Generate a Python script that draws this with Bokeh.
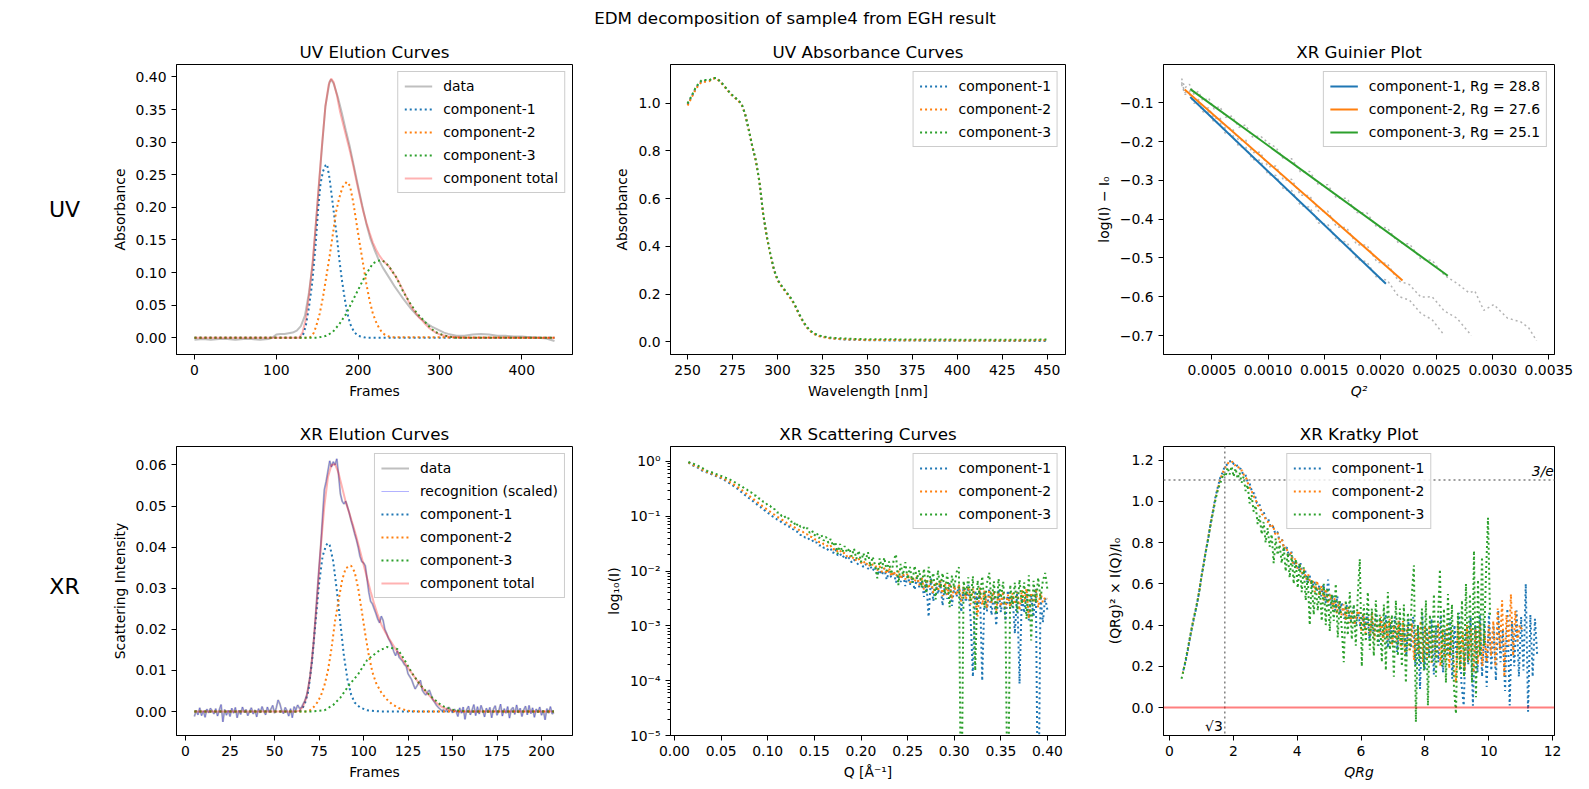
import numpy as np
from bokeh.plotting import figure
from bokeh.layouts import column, row
from bokeh.models import FixedTicker, CustomJSTickFormatter, Span, Label, Range1d
from bokeh.core.properties import value
from bokeh.embed import file_html
from bokeh.resources import INLINE

# ---------------------------------------------------------------- UV elution
uv_data_frames = [0, 10, 20, 30, 40, 50, 60, 70, 80, 90,
                  95, 100, 105, 110, 115, 120, 125, 130, 135, 140,
                  145, 150, 155, 160, 165, 167, 170, 175, 180, 185,
                  190, 195, 200, 205, 210, 215, 220, 225, 230, 235,
                  240, 245, 250, 255, 260, 265, 270, 275, 280, 285,
                  290, 295, 300, 305, 310,
                  320, 330, 340, 350, 360, 370, 380, 390, 400, 410, 420, 430, 440]
uv_data_abs = [-0.003, -0.002, -0.003, -0.002, -0.002, -0.003, -0.002, -0.002, -0.003, -0.002,
               0.000, 0.005, 0.006, 0.006, 0.007, 0.008, 0.011, 0.018, 0.034, 0.070,
               0.120, 0.200, 0.280, 0.355, 0.392, 0.396, 0.390, 0.370, 0.345, 0.318,
               0.292, 0.262, 0.232, 0.203, 0.175, 0.152, 0.135, 0.120, 0.108, 0.098,
               0.088, 0.078, 0.069, 0.060, 0.052, 0.044, 0.037, 0.031, 0.026, 0.021,
               0.017, 0.014, 0.011, 0.008, 0.006,
               0.003, 0.003, 0.005, 0.006, 0.005, 0.003, 0.003, 0.002, 0.002, 0.001, 0.000, -0.001, -0.005]

uv_c1_frames = [0, 128, 132, 136, 140, 144, 148, 151, 154, 157, 160, 162, 165, 168, 171,
                174, 177, 180, 183, 186, 190, 195, 200, 210, 440]
uv_c1_abs = [0, 0, 0.002, 0.018, 0.048, 0.085, 0.142, 0.195, 0.236, 0.255, 0.264, 0.266, 0.245, 0.215, 0.185,
             0.155, 0.120, 0.090, 0.065, 0.042, 0.022, 0.009, 0.003, 0, 0]

uv_c2_frames = [0, 140, 143, 146, 149, 153, 157, 161, 165, 169, 173, 177, 181, 186, 190,
                194, 198, 202, 206, 210, 214, 218, 222, 226, 230, 235, 240, 440]
uv_c2_abs = [0, 0, 0.002, 0.008, 0.019, 0.037, 0.062, 0.093, 0.124, 0.158, 0.193, 0.215, 0.231, 0.239, 0.233,
             0.208, 0.176, 0.144, 0.114, 0.083, 0.057, 0.037, 0.024, 0.014, 0.007, 0.003, 0.001, 0]

uv_c3_frames = [0, 150, 161, 169, 177, 185, 193, 201, 209, 218, 224, 229, 234, 239, 247,
                255, 263, 271, 279, 287, 294, 302, 310, 320, 440]
uv_c3_abs = [0, 0, 0.003, 0.009, 0.021, 0.036, 0.056, 0.076, 0.096, 0.114, 0.118, 0.119, 0.115, 0.107, 0.092,
             0.071, 0.054, 0.039, 0.028, 0.017, 0.009, 0.005, 0.002, 0, 0]

uv_total_frames = [0, 128, 132, 136, 140, 144, 148, 152, 156, 160, 164, 167,
                   170, 174, 178, 182, 186, 190, 194, 198, 202, 206,
                   210, 214, 218, 222, 226, 230, 234, 238, 242, 246,
                   250, 254, 258, 262, 266, 270, 274, 278, 282, 286,
                   290, 295, 300, 310, 320, 330, 440]
uv_total_abs = [0, 0, 0.008, 0.028, 0.065, 0.110, 0.170, 0.235, 0.298, 0.355, 0.388, 0.3975,
                0.392, 0.372, 0.346, 0.326, 0.306, 0.286, 0.264, 0.240, 0.217, 0.195,
                0.177, 0.161, 0.146, 0.135, 0.126, 0.119, 0.114, 0.109, 0.101, 0.094,
                0.085, 0.075, 0.065, 0.055, 0.046, 0.039, 0.032, 0.027, 0.021, 0.016,
                0.012, 0.008, 0.005, 0.002, 0.001, 0, 0]

# ---------------------------------------------------------------- UV absorbance
uv_wavelength = [250, 252, 254, 256, 258, 260, 262, 264, 266, 268,
                 270, 272, 274, 276, 278, 280, 282, 284, 286, 288,
                 290, 292, 294, 296, 298, 300, 302, 304, 306, 308,
                 310, 312, 314, 316, 318, 320, 322, 324, 326, 328,
                 330, 335, 340, 345, 350,
                 360, 370, 380, 390, 400, 410, 420, 430, 440, 450]
uv_spec_c1 = [0.995, 1.024, 1.055, 1.079, 1.094, 1.094, 1.094, 1.104, 1.104, 1.092,
              1.075, 1.057, 1.038, 1.026, 1.012, 0.997, 0.954, 0.889, 0.819, 0.758,
              0.668, 0.538, 0.443, 0.368, 0.303, 0.260, 0.236, 0.216, 0.196, 0.176,
              0.148, 0.116, 0.088, 0.064, 0.047, 0.035, 0.028, 0.023, 0.020, 0.017,
              0.015, 0.011, 0.009, 0.008, 0.007,
              0.006, 0.006, 0.005, 0.005, 0.005, 0.005, 0.004, 0.004, 0.004, 0.004]
uv_spec_c2 = [0.990, 1.020, 1.050, 1.075, 1.090, 1.090, 1.092, 1.103, 1.103, 1.091,
              1.074, 1.056, 1.037, 1.025, 1.011, 0.996, 0.953, 0.888, 0.818, 0.757,
              0.667, 0.537, 0.442, 0.367, 0.302, 0.259, 0.235, 0.215, 0.195, 0.175,
              0.147, 0.115, 0.087, 0.063, 0.046, 0.034, 0.027, 0.022, 0.019, 0.016,
              0.014, 0.012, 0.010, 0.009, 0.008,
              0.008, 0.007, 0.007, 0.007, 0.006, 0.006, 0.006, 0.006, 0.006, 0.007]
uv_spec_c3 = [1.000, 1.027, 1.058, 1.082, 1.097, 1.097, 1.096, 1.105, 1.105, 1.093,
              1.076, 1.058, 1.039, 1.027, 1.013, 0.998, 0.955, 0.890, 0.820, 0.760,
              0.670, 0.540, 0.445, 0.370, 0.305, 0.262, 0.238, 0.218, 0.198, 0.178,
              0.150, 0.118, 0.090, 0.066, 0.049, 0.037, 0.030, 0.025, 0.022, 0.019,
              0.017, 0.015, 0.013, 0.012, 0.011,
              0.011, 0.010, 0.010, 0.010, 0.009, 0.009, 0.009, 0.009, 0.009, 0.010]

# ---------------------------------------------------------------- Guinier
guinier_rg = [28.8, 27.6, 25.1]
guinier_fit_q2 = [(0.000307, 0.002049), (0.000257, 0.002197), (0.000307, 0.002600)]

guinier_q2_c1 = [0.00023, 0.00026, 0.00030, 0.00034, 0.00038, 0.00042, 0.00047, 0.00052, 0.00057, 0.00062,
                 0.00068, 0.00074, 0.00080, 0.00086, 0.00093, 0.00100, 0.00107, 0.00114, 0.00121, 0.00129,
                 0.00137, 0.00145, 0.00153, 0.00161, 0.00170, 0.00179, 0.00188, 0.00197, 0.00206, 0.00216,
                 0.00226, 0.00236, 0.00246, 0.00257]
guinier_log_c1 = [-0.052, -0.078, -0.077, -0.101, -0.098, -0.123, -0.124, -0.151, -0.149, -0.179,
                  -0.180, -0.213, -0.213, -0.246, -0.248, -0.285, -0.287, -0.324, -0.326, -0.365,
                  -0.369, -0.410, -0.413, -0.454, -0.459, -0.503, -0.510, -0.552, -0.557, -0.599,
                  -0.609, -0.643, -0.659, -0.700]
guinier_q2_c2 = guinier_q2_c1 + [0.00268, 0.00281]
guinier_log_c2 = [-0.047, -0.073, -0.069, -0.094, -0.091, -0.115, -0.113, -0.141, -0.138, -0.166,
                  -0.165, -0.198, -0.195, -0.228, -0.227, -0.265, -0.263, -0.300, -0.297, -0.338,
                  -0.339, -0.379, -0.379, -0.420, -0.422, -0.466, -0.467, -0.511, -0.514, -0.559,
                  -0.569, -0.601, -0.600, -0.637, -0.655, -0.700]
guinier_q2_c3 = guinier_q2_c1 + [0.00268, 0.00279, 0.00284, 0.00292, 0.00301, 0.00313, 0.00325, 0.00332, 0.00339]
guinier_log_c3 = [-0.037, -0.061, -0.052, -0.078, -0.070, -0.095, -0.087, -0.116, -0.109, -0.137,
                  -0.134, -0.163, -0.157, -0.188, -0.185, -0.203, -0.215, -0.246, -0.244, -0.279,
                  -0.277, -0.312, -0.311, -0.346, -0.346, -0.383, -0.384, -0.421, -0.422, -0.461,
                  -0.464, -0.503, -0.506, -0.545, -0.565, -0.590, -0.585, -0.635, -0.620, -0.655,
                  -0.665, -0.680, -0.713]

# ---------------------------------------------------------------- XR elution
xr_frames = list(range(5, 208))
xr_data_int = [-0.0012, 0.0003, -0.0008, 0.0009, -0.0010, 0.0002, -0.0014, 0.0006, -0.0003, 0.0008,
               0.0002, -0.0006, 0.0007, -0.0011, 0.0004, 0.0017, -0.0025, 0.0005, -0.0009, 0.0003,
               -0.0012, 0.0008, -0.0004, 0.0010, -0.0015, 0.0003, -0.0007, 0.0011, -0.0002, 0.0005,
               -0.0010, 0.0001, 0.0009, -0.0006, 0.0004, -0.0013, 0.0007, -0.0003, 0.0012, 0.0000,
               -0.0008, 0.0011, -0.0002, 0.0006, 0.0015, -0.0004, 0.0009, 0.0028, 0.0019, 0.0003,
               -0.0005, 0.0010, 0.0002, -0.0011, 0.0007, -0.0015, 0.0012, 0.0004, 0.0016, 0.0008,
               0.0009, 0.0018, 0.0026, 0.0038, 0.0058, 0.0086, 0.0122, 0.0170, 0.0228, 0.0290,
               0.0350, 0.0405, 0.0475, 0.0540, 0.0560, 0.0585, 0.0610, 0.0595, 0.0608, 0.0600,
               0.0615, 0.0575, 0.0530, 0.0512, 0.0505, 0.0512, 0.0498, 0.0483, 0.0465, 0.0450,
               0.0433, 0.0418, 0.0400, 0.0378, 0.0365, 0.0362, 0.0355, 0.0322, 0.0290, 0.0268,
               0.0262, 0.0250, 0.0238, 0.0225, 0.0216, 0.0232, 0.0222, 0.0200, 0.0190, 0.0178,
               0.0170, 0.0160, 0.0146, 0.0136, 0.0148, 0.0132, 0.0127, 0.0122, 0.0114, 0.0110,
               0.0092, 0.0085, 0.0078, 0.0066, 0.0055, 0.0062, 0.0070, 0.0076, 0.0052, 0.0045,
               0.0040, 0.0048, 0.0052, 0.0040, 0.0028, 0.0022, 0.0015, 0.0010, 0.0006, 0.0002,
               0.0004, -0.0001, 0.0008, 0.0010, 0.0004, -0.0003, 0.0006, 0.0001, -0.0012, 0.0009,
               -0.0004, 0.0011, -0.0019, 0.0005, 0.0013, -0.0008, 0.0004, 0.0017, -0.0010, 0.0012,
               -0.0006, 0.0015, 0.0003, -0.0013, 0.0008, -0.0002, 0.0010, -0.0015, 0.0006, 0.0014,
               -0.0009, 0.0002, 0.0018, -0.0011, 0.0007, -0.0004, 0.0012, -0.0016, 0.0005, 0.0010,
               -0.0007, 0.0016, -0.0003, 0.0008, -0.0012, 0.0004, 0.0013, -0.0008, 0.0015, -0.0005,
               0.0009, -0.0014, 0.0006, -0.0002, 0.0011, -0.0009, 0.0003, -0.0020, 0.0007, -0.0004,
               0.0012, -0.0006, -0.0002]

xr_c1_frames = [5, 63, 65, 67, 69, 71, 73, 75, 77, 79, 80, 81, 83, 85, 87, 89, 91, 93, 95, 98, 102, 110, 207]
xr_c1_int = [0, 0, 0.0003, 0.0018, 0.0050, 0.0120, 0.0215, 0.0310, 0.0378, 0.0405, 0.0410, 0.0405,
             0.0365, 0.0295, 0.0215, 0.0135, 0.0078, 0.0042, 0.0022, 0.0010, 0.0003, 0, 0]
xr_c2_frames = [5, 68, 70, 72, 74, 76, 78, 80, 82, 84, 86, 88, 90, 93, 95, 97, 99, 101, 103, 105,
                107, 110, 113, 116, 120, 125, 130, 207]
xr_c2_int = [0, 0, 0.0003, 0.0011, 0.0022, 0.0038, 0.0063, 0.0099, 0.0153, 0.0220, 0.0271, 0.0320,
             0.0349, 0.0355, 0.0340, 0.0300, 0.0245, 0.0188, 0.0136, 0.0096, 0.0070, 0.0046, 0.0030,
             0.0018, 0.0008, 0.0002, 0, 0]
xr_c3_frames = [5, 70, 78, 83, 87, 92, 97, 102, 108, 113, 119, 121, 125, 127, 132, 138, 144, 151, 160, 207]
xr_c3_int = [0, 0, 0.0003, 0.0016, 0.0034, 0.0065, 0.0091, 0.0125, 0.0146, 0.0157, 0.0152, 0.0140,
             0.0111, 0.0095, 0.0064, 0.0036, 0.0014, 0.0003, 0, 0]
xr_total_frames = [5, 62, 64, 66, 68, 70, 72, 74, 76, 78, 80, 82, 84, 86, 88, 90, 92, 94, 96, 98,
                   100, 102, 104, 106, 108, 110, 112, 114, 116, 118, 120, 122, 124, 126, 128, 130,
                   132, 134, 136, 138, 140, 142, 144, 146, 148, 152, 160, 207]
xr_total_int = [0, 0, 0.0002, 0.0012, 0.0035, 0.0085, 0.0170, 0.0280, 0.0400, 0.0500, 0.0570, 0.0600,
                0.0602, 0.0580, 0.0545, 0.0510, 0.0483, 0.0455, 0.0425, 0.0392, 0.0358, 0.0325,
                0.0292, 0.0262, 0.0235, 0.0212, 0.0195, 0.0180, 0.0166, 0.0152, 0.0140, 0.0126,
                0.0113, 0.0100, 0.0088, 0.0076, 0.0064, 0.0053, 0.0043, 0.0034, 0.0025, 0.0017,
                0.0011, 0.0007, 0.0004, 0.0001, 0, 0]

# ---------------------------------------------------------------- scattering (Kratky form)
scatter_q = np.round(0.015 + 0.0025 * np.arange(155), 4)
kratky_c1 = [0.180, 0.222, 0.279, 0.342, 0.398, 0.452, 0.503, 0.568, 0.641, 0.708,
             0.772, 0.829, 0.902, 0.958, 1.022, 1.068, 1.112, 1.138, 1.168, 1.178,
             1.192, 1.198, 1.180, 1.181, 1.160, 1.158, 1.132, 1.131, 1.095, 1.082,
             1.042, 1.038, 0.992, 0.991, 0.952, 0.948, 0.912, 0.913, 0.876, 0.879,
             0.845, 0.852, 0.800, 0.815, 0.762, 0.778, 0.735, 0.758, 0.690, 0.712,
             0.668, 0.700, 0.640, 0.668, 0.605, 0.640, 0.580, 0.612, 0.565, 0.590,
             0.540, 0.598, 0.505, 0.620, 0.490, 0.545, 0.470, 0.540, 0.455, 0.510,
             0.430, 0.498, 0.452, 0.420, 0.487, 0.400, 0.465, 0.392, 0.450, 0.380,
             0.460, 0.330, 0.420, 0.350, 0.470, 0.300, 0.430, 0.340, 0.450, 0.290,
             0.410, 0.310, 0.440, 0.270, 0.420, 0.300, 0.400, 0.250, 0.430, 0.290,
             0.440, 0.200, 0.400, 0.090, 0.460, 0.180, 0.380, 0.250, 0.430, 0.160,
             0.400, 0.220, 0.450, 0.170, 0.380, 0.260, 0.430, 0.140, 0.400, 0.220,
             0.460, 0.120, 0.010, 0.380, 0.210, 0.440, 0.009, 0.400, 0.170, 0.450,
             0.150, 0.420, 0.100, 0.460, 0.180, 0.400, 0.130, 0.470, 0.220, 0.380,
             0.080, 0.480, 0.010, 0.420, 0.200, 0.470, 0.150, 0.440, 0.180, 0.600,
             -0.020, 0.450, 0.150, 0.430, 0.250]
kratky_c2 = [0.165, 0.212, 0.262, 0.322, 0.380, 0.432, 0.482, 0.533, 0.600, 0.662,
             0.730, 0.790, 0.850, 0.910, 0.968, 1.020, 1.065, 1.105, 1.135, 1.160,
             1.175, 1.192, 1.190, 1.192, 1.170, 1.172, 1.150, 1.150, 1.120, 1.110,
             1.072, 1.060, 1.028, 1.012, 0.982, 0.970, 0.938, 0.932, 0.902, 0.900,
             0.870, 0.885, 0.840, 0.850, 0.800, 0.818, 0.770, 0.780, 0.738, 0.752,
             0.700, 0.722, 0.675, 0.695, 0.650, 0.670, 0.622, 0.645, 0.600, 0.618,
             0.560, 0.615, 0.545, 0.590, 0.520, 0.575, 0.505, 0.548, 0.480, 0.530,
             0.455, 0.515, 0.445, 0.500, 0.425, 0.488, 0.410, 0.470, 0.400, 0.455,
             0.470, 0.370, 0.455, 0.360, 0.440, 0.350, 0.460, 0.330, 0.420, 0.345,
             0.440, 0.320, 0.410, 0.330, 0.430, 0.300, 0.400, 0.320, 0.420, 0.290,
             0.420, 0.250, 0.400, 0.270, 0.410, 0.230, 0.380, 0.260, 0.420, 0.220,
             0.390, 0.240, 0.400, 0.210, 0.370, 0.250, 0.410, 0.200, 0.380, 0.230,
             0.400, 0.190, 0.380, 0.230, 0.120, 0.410, 0.200, 0.370, 0.180, 0.400,
             0.230, 0.390, 0.170, 0.380, 0.210, 0.410, 0.200, 0.360, 0.220, 0.400,
             0.250, 0.420, 0.200, 0.480, 0.280, 0.520, 0.150, 0.450, 0.300, 0.550,
             0.250, 0.470, 0.320, 0.400, 0.380]
kratky_c3 = [0.140, 0.180, 0.230, 0.280, 0.330, 0.380, 0.430, 0.470, 0.520, 0.570,
             0.640, 0.690, 0.750, 0.800, 0.860, 0.910, 0.960, 1.010, 1.050, 1.080,
             1.105, 1.135, 1.120, 1.165, 1.130, 1.170, 1.120, 1.160, 1.110, 1.140,
             1.090, 1.120, 1.050, 1.080, 0.990, 1.030, 0.950, 0.980, 0.890, 0.930,
             0.840, 0.900, 0.800, 0.870, 0.780, 0.840, 0.700, 0.820, 0.740, 0.790,
             0.700, 0.780, 0.660, 0.750, 0.630, 0.740, 0.600, 0.720, 0.580, 0.700,
             0.560, 0.680, 0.520, 0.640, 0.400, 0.620, 0.450, 0.600, 0.470, 0.580,
             0.420, 0.600, 0.400, 0.580, 0.370, 0.550, 0.420, 0.600, 0.340, 0.520,
             0.380, 0.220, 0.520, 0.350, 0.560, 0.330, 0.500, 0.300, 0.550, 0.720,
             0.200, 0.500, 0.320, 0.560, 0.280, 0.480, 0.250, 0.520, 0.300, 0.450,
             0.220, 0.500, 0.180, 0.560, 0.280, 0.450, 0.150, 0.520, 0.250, 0.480,
             0.200, 0.500, 0.120, 0.460, 0.280, 0.550, 0.690, -0.070, 0.400, 0.220,
             0.480, 0.180, 0.520, 0.010, 0.450, 0.220, 0.550, 0.150, 0.420, 0.670,
             0.200, 0.480, 0.120, 0.550, 0.250, 0.500, 0.100, -0.030, 0.460, 0.180,
             0.520, 0.150, 0.600, 0.220, 0.550, 0.120, 0.760, 0.050, 0.620, 0.250,
             0.730, 0.300, 0.650, 0.920, 0.450]

# ---------------------------------------------------------------- ticks
uv_elution_xticks = [0, 100, 200, 300, 400]
uv_elution_yticks = [0.0, 0.05, 0.10, 0.15, 0.20, 0.25, 0.30, 0.35, 0.40]
uv_abs_xticks = [250, 275, 300, 325, 350, 375, 400, 425, 450]
uv_abs_yticks = [0.0, 0.2, 0.4, 0.6, 0.8, 1.0]
guinier_xticks = [0.0005, 0.0010, 0.0015, 0.0020, 0.0025, 0.0030, 0.0035]
guinier_yticks = [-0.7, -0.6, -0.5, -0.4, -0.3, -0.2, -0.1]
xr_elution_xticks = [0, 25, 50, 75, 100, 125, 150, 175, 200]
xr_elution_yticks = [0.0, 0.01, 0.02, 0.03, 0.04, 0.05, 0.06]
scatter_xticks = [0.0, 0.05, 0.10, 0.15, 0.20, 0.25, 0.30, 0.35, 0.40]
scatter_yticks = [1e-5, 1e-4, 1e-3, 1e-2, 1e-1, 1.0]
kratky_xticks = [0, 2, 4, 6, 8, 10, 12]
kratky_yticks = [0.0, 0.2, 0.4, 0.6, 0.8, 1.0, 1.2]

FONT = "DejaVu Sans"
TICK = "13.9px"
COLORS = ["#1f77b4", "#ff7f0e", "#2ca02c"]
NAMES = ["component-1", "component-2", "component-3"]
DOT = "2 3"


def fixed_fmt(decimals):
    return CustomJSTickFormatter(
        code=f"return tick.toFixed({decimals}).replace('-', '\u2212');")


def panel(title, fw, fh, borders, xr, yr, xlabel, ylabel, xticks, yticks,
          xdec, ydec, y_log=False):
    left, right, top, bottom = borders
    p = figure(frame_width=fw, frame_height=fh,
               x_range=Range1d(*xr), y_range=Range1d(*yr),
               y_axis_type="log" if y_log else "linear",
               min_border_left=left, min_border_right=right,
               min_border_top=top, min_border_bottom=bottom,
               output_backend="svg", toolbar_location=None, title=title)
    p.title.text_font = FONT
    p.title.text_font_size = "16.7px"
    p.title.text_font_style = "normal"
    p.title.text_color = "black"
    p.title.align = "center"
    p.title.standoff = 5
    p.grid.visible = False
    p.background_fill_color = "white"
    p.border_fill_color = "white"
    p.outline_line_color = "black"
    p.outline_line_alpha = 1.0
    p.outline_line_width = 1
    p.xaxis.axis_label = xlabel
    p.yaxis.axis_label = ylabel
    p.xaxis.ticker = FixedTicker(ticks=xticks)
    p.xaxis.formatter = fixed_fmt(xdec)
    if y_log:
        minors = [k * 10.0 ** e for e in range(-5, 0) for k in range(2, 10)]
        p.yaxis.ticker = FixedTicker(ticks=yticks, minor_ticks=minors)
        p.yaxis.formatter = CustomJSTickFormatter(code="""
            const e = Math.round(Math.log10(tick));
            const sup = {'-': '\u207b', '0': '\u2070', '1': '\u00b9', '2': '\u00b2',
                         '3': '\u00b3', '4': '\u2074', '5': '\u2075'};
            return '10' + String(e).split('').map(c => sup[c]).join('');
        """)
        p.yaxis.minor_tick_line_color = "black"
        p.yaxis.minor_tick_out = 3
        p.yaxis.minor_tick_in = 0
    else:
        p.yaxis.ticker = FixedTicker(ticks=yticks)
        p.yaxis.formatter = fixed_fmt(ydec)
    for ax in p.xaxis + p.yaxis:
        ax.axis_line_color = "black"
        ax.axis_line_width = 1
        ax.major_tick_line_color = "black"
        ax.major_tick_out = 5
        ax.major_tick_in = 0
        ax.major_label_text_font = FONT
        ax.major_label_text_font_size = TICK
        ax.major_label_text_color = "black"
        ax.major_label_standoff = 5
        ax.axis_label_text_font = FONT
        ax.axis_label_text_font_size = TICK
        ax.axis_label_text_font_style = "normal"
        ax.axis_label_text_color = "black"
        ax.axis_label_standoff = 5
    return p


def style_legend(p, location):
    lg = p.legend[0]
    lg.location = location
    lg.label_text_font = FONT
    lg.label_text_font_size = TICK
    lg.label_text_color = "black"
    lg.glyph_width = 28
    lg.glyph_height = 14
    lg.label_height = 14
    lg.label_standoff = 11
    lg.spacing = 7
    lg.padding = 6
    lg.margin = 7
    lg.border_line_color = "#cccccc"
    lg.border_line_alpha = 1.0
    lg.background_fill_color = "white"
    lg.background_fill_alpha = 0.8


ROW1 = (290, 34, 42)
ROW2 = (289, 45, 59)

# ---- UV elution curves
p1 = panel("UV Elution Curves", 396, ROW1[0], (76, 10, ROW1[1], ROW1[2]),
           (-22, 462), (-0.0256, 0.419), "Frames", "Absorbance",
           uv_elution_xticks, uv_elution_yticks, 0, 2)
p1.line(uv_data_frames, uv_data_abs, line_color="gray", line_alpha=0.5, line_width=2, legend_label="data")
for fr, ab, c, n in zip([uv_c1_frames, uv_c2_frames, uv_c3_frames],
                        [uv_c1_abs, uv_c2_abs, uv_c3_abs], COLORS, NAMES):
    p1.line(fr, ab, line_color=c, line_width=2, line_dash=DOT, legend_label=n)
p1.line(uv_total_frames, uv_total_abs, line_color="red", line_alpha=0.3, line_width=2,
        legend_label="component total")
style_legend(p1, "top_right")

# ---- UV absorbance curves
p2 = panel("UV Absorbance Curves", 395, ROW1[0], (88, 10, ROW1[1], ROW1[2]),
           (240.5, 460.2), (-0.053, 1.162), "Wavelength [nm]", "Absorbance",
           uv_abs_xticks, uv_abs_yticks, 0, 1)
for spec, c, n in zip([uv_spec_c1, uv_spec_c2, uv_spec_c3], COLORS, NAMES):
    p2.line(uv_wavelength, spec, line_color=c, line_width=2, line_dash=DOT, legend_label=n)
style_legend(p2, "top_right")

# ---- XR Guinier plot
p3 = panel("XR Guinier Plot", 391, ROW1[0], (88, 35, ROW1[1], ROW1[2]),
           (0.000069, 0.00355), (-0.749, -0.001), "Q\u00b2", "log(I) \u2212 I\u2080",
           guinier_xticks, guinier_yticks, 4, 1)
p3.xaxis.axis_label_text_font_style = "italic"
for q2, lg in zip([guinier_q2_c1, guinier_q2_c2, guinier_q2_c3],
                  [guinier_log_c1, guinier_log_c2, guinier_log_c3]):
    p3.line(q2, lg, line_color="gray", line_alpha=0.6, line_width=1.5, line_dash=DOT)
for rg, (q_lo, q_hi), c, n in zip(guinier_rg, guinier_fit_q2, COLORS, NAMES):
    xs = [q_lo, q_hi]
    ys = [-rg ** 2 / 3 * q for q in xs]
    p3.line(xs, ys, line_color=c, line_width=2, legend_label=f"{n}, Rg = {rg}")
style_legend(p3, "top_right")

# ---- XR elution curves
p4 = panel("XR Elution Curves", 396, ROW2[0], (76, 10, ROW2[1], ROW2[2]),
           (-5.06, 217.4), (-0.00583, 0.0645), "Frames", "Scattering Intensity",
           xr_elution_xticks, xr_elution_yticks, 0, 2)
p4.line(xr_frames, xr_data_int, line_color="gray", line_alpha=0.5, line_width=2, legend_label="data")
p4.line(xr_frames, xr_data_int, line_color="blue", line_alpha=0.3, line_width=1,
        legend_label="recognition (scaled)")
for fr, it, c, n in zip([xr_c1_frames, xr_c2_frames, xr_c3_frames],
                        [xr_c1_int, xr_c2_int, xr_c3_int], COLORS, NAMES):
    p4.line(fr, it, line_color=c, line_width=2, line_dash=DOT, legend_label=n)
p4.line(xr_total_frames, xr_total_int, line_color="red", line_alpha=0.3, line_width=2,
        legend_label="component total")
style_legend(p4, "top_right")

# ---- XR scattering curves (intensity recovered from the Kratky form)
kratky_all = [np.array(kratky_c1), np.array(kratky_c2), np.array(kratky_c3)]
p5 = panel("XR Scattering Curves", 395, ROW2[0], (88, 10, ROW2[1], ROW2[2]),
           (-0.0043, 0.4193), (1e-5, 1.875), "Q [\u212b\u207b\u00b9]", "log\u2081\u2080(I)",
           scatter_xticks, scatter_yticks, 2, 0, y_log=True)
for k, rg, c, n in zip(kratky_all, guinier_rg, COLORS, NAMES):
    intensity = k / (scatter_q * rg) ** 2
    intensity = np.where(intensity > 0, intensity, 1e-7)   # clip non-positive values
    p5.line(scatter_q, intensity, line_color=c, line_width=2, line_dash=DOT, legend_label=n)
style_legend(p5, "top_right")

# ---- XR Kratky plot
k_yr = (-0.1355, 1.266)
p6 = panel("XR Kratky Plot", 391, ROW2[0], (88, 35, ROW2[1], ROW2[2]),
           (-0.188, 12.06), k_yr, "QRg", "(QRg)\u00b2 \u00d7 I(Q)/I\u2080",
           kratky_xticks, kratky_yticks, 0, 1)
p6.xaxis.axis_label_text_font_style = "italic"
for k, rg, c, n in zip(kratky_all, guinier_rg, COLORS, NAMES):
    p6.line(scatter_q * rg, k, line_color=c, line_width=2, line_dash=DOT, legend_label=n)
p6.add_layout(Span(location=3 / np.e, dimension="width", line_color="gray",
                   line_width=1.5, line_dash=DOT))
p6.add_layout(Span(location=np.sqrt(3), dimension="height", line_color="gray",
                   line_width=1.5, line_dash=DOT))
p6.add_layout(Span(location=0, dimension="width", line_color="red", line_alpha=0.5, line_width=2))
p6.add_layout(Label(x=12.04, y=3 / np.e, text="3/e", text_align="right", text_baseline="bottom",
                    text_font=FONT, text_font_size=TICK, text_font_style="italic",
                    text_color="black", y_offset=1))
p6.add_layout(Label(x=np.sqrt(3), y=k_yr[0], text="\u221a3", text_align="right",
                    text_baseline="bottom", text_font=FONT, text_font_size=TICK,
                    text_color="black", x_offset=-2, y_offset=2))
style_legend(p6, "top_center")


# ---- figure title and row labels
def blank(width, height):
    b = figure(frame_width=width, frame_height=height,
               x_range=Range1d(0, width), y_range=Range1d(0, height),
               min_border=0, output_backend="svg", toolbar_location=None,
               x_axis_location=None, y_axis_location=None)
    b.grid.visible = False
    b.outline_line_color = None
    b.background_fill_color = "white"
    b.border_fill_color = "white"
    return b


top = blank(1589, 30)
top.text(x=[794.5], y=[13], text=["EDM decomposition of sample4 from EGH result"],
         text_align="center", text_baseline="middle", text_font=value(FONT),
         text_font_size="16.7px", text_color="black")

side = blank(100, 759)
side.text(x=[64, 64], y=[580, 203.5], text=["UV", "XR"], text_align="center",
          text_baseline="middle", text_font=value(FONT), text_font_size="22px",
          text_color="black")

layout = column(top, row(side, column(row(p1, p2, p3), row(p4, p5, p6))))

open("out.html", "w", encoding="utf-8").write(file_html(layout, INLINE, title="EDM decomposition"))
